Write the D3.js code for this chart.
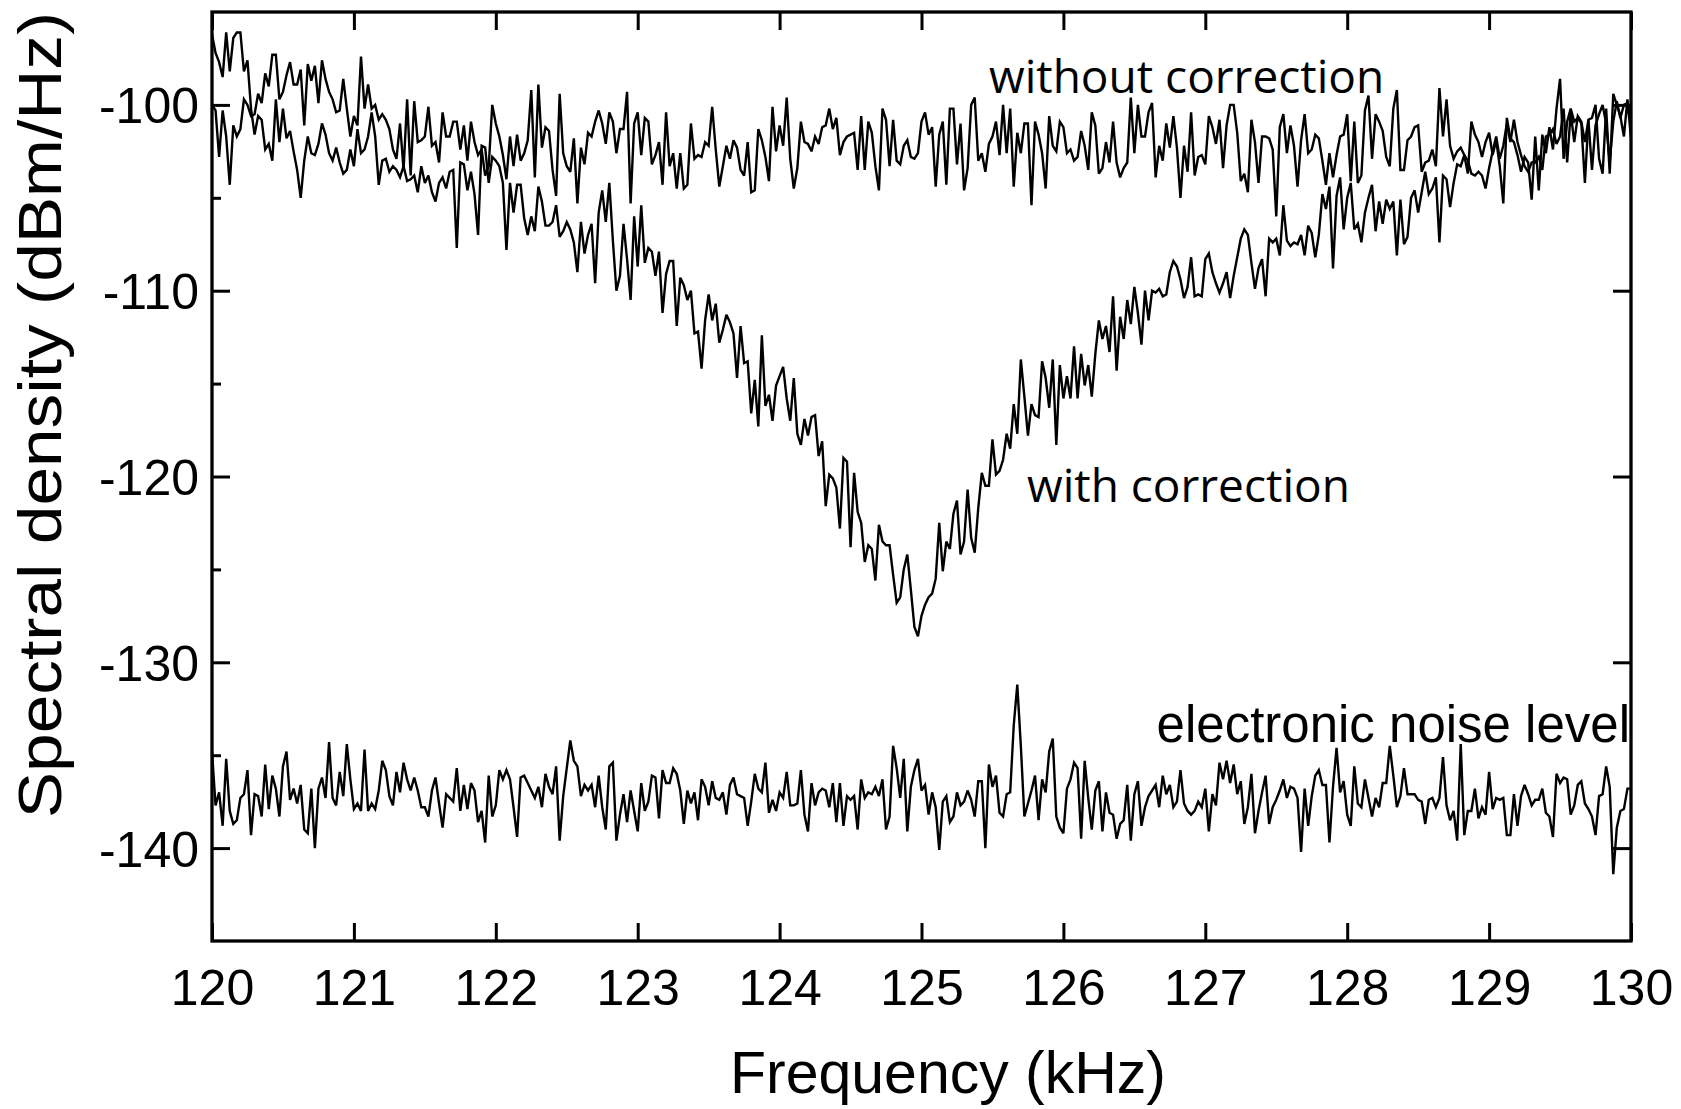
<!DOCTYPE html>
<html><head><meta charset="utf-8">
<script src="https://d3js.org/d3.v7.min.js"></script>
<style>html,body{margin:0;padding:0;background:#fff;} svg{display:block;}</style>
</head><body>
<svg id="chart" width="1681" height="1109"></svg>
<script>
// ---- data ----
const xDomain = [120, 130];
const yDomain = [-145, -95];
const xTickValues = [120, 121, 122, 123, 124, 125, 126, 127, 128, 129, 130];
const yTickValues = [-140, -130, -120, -110, -100];
const yMinorTickValues = [-135, -125, -115, -105];
const xLabel = "Frequency (kHz)";
const yLabel = "Spectral density (dBm/Hz)";
const seriesNames = ["without correction", "with correction", "electronic noise level"];

// spectra sampled on a uniform grid from 120 to 130 kHz (401 points each)
const withoutCorrection = [
-100.0,-100.3,-102.8,-100.3,-101.7,-104.3,-101.1,-101.7,-101.3,-99.7,-100.0,-100.6,
-100.5,-99.4,-99.9,-98.3,-99.0,-97.3,-97.3,-99.7,-99.3,-98.4,-97.7,-98.9,-98.9,-98.1,-101.1,-97.8,-98.7,-97.9,-99.9,-97.6,-98.6,-99.3,-99.7,-100.4,-100.3,-98.6,-100.2,-101.7,-100.6,-101.1,-97.4,-100.2,-98.9,-100.2,-100.0,
-100.8,-100.5,-100.8,-101.3,-102.4,-102.9,-101.0,-103.5,-99.7,-103.8,-99.8,-102.0,-101.9,-101.7,-100.1,-102.2,-102.0,-103.1,-100.4,-101.7,-101.7,-100.9,-100.9,-102.4,-101.1,-103.0,-100.9,-102.0,-102.7,-102.4,-103.8,-103.3,
-100.0,-101.0,-101.7,-102.7,-104.0,-101.7,-103.3,-101.6,-103.0,-102.6,-101.9,-99.2,-103.9,-98.9,-102.3,-101.2,-101.4,-103.5,-104.9,-99.4,-102.6,-103.3,-103.6,-101.8,-105.3,-102.3,-103.2,-101.5,-101.7,-100.9,-100.3,-101.0,-102.1,-100.4,-100.9,-102.6,-101.3,-101.3,-99.3,-105.3,-101.0,-100.4,-102.7,-100.7,-100.9,-103.2,-102.7,-102.0,-104.3,-100.4,-103.3,-102.6,-104.5,
-102.6,-104.5,-104.3,-101.0,-102.9,-102.7,-102.8,-102.0,-102.2,-100.1,
-102.4,-104.4,-103.3,-102.2,-102.9,-101.9,-102.3,-103.5,-103.8,-102.0,
-104.7,-104.6,-101.3,-101.9,-102.8,-104.1,-100.1,-102.5,-101.1,-102.2,
-99.6,-102.9,-104.5,-103.4,-100.9,-102.0,-102.1,-102.5,-101.7,-102.1,
-101.2,-101.1,-100.2,-101.3,-100.7,-102.7,-102.0,-101.7,-101.6,-101.5,
-103.5,-100.6,-103.5,-100.9,-101.5,-103.3,-104.6,-100.2,-100.8,-103.3,
-100.8,-103.0,-103.2,-102.2,-101.9,-102.8,-102.9,-102.6,-100.9,-100.4,
-101.6,-101.2,-104.4,-101.6,-100.9,-104.3,-100.2,-100.2,-103.2,-101.0,
-104.6,-103.4,-100.0,-99.6,-103.0,-102.6,-103.6,-102.1,-101.7,-100.9,
-102.7,-100.0,-102.6,-100.2,-104.4,-101.5,-102.6,-101.0,-101.0,-105.4,
-100.9,-101.6,-102.6,-104.5,-100.6,-102.2,-102.5,-100.9,-101.2,-102.6,
-102.4,-103.0,-102.8,-101.4,-102.2,-103.5,-100.4,-101.1,-103.7,-103.4,
-102.0,-103.1,-100.9,-103.1,-103.9,-103.4,-103.1,-99.6,-102.6,-100.0,
-101.7,-101.7,-100.4,-99.9,-103.9,-102.2,
-103.0,-101.0,-102.3,-100.6,-102.3,-105.0,-102.2,-103.6,-100.4,-103.8,
-102.8,-102.7,-103.2,-100.6,-101.2,-102.1,-100.8,-103.4,-101.1,-100.0,
-100.0,-101.5,-104.1,-103.7,-104.7,-100.8,-102.0,-104.2,-101.7,-101.7,
-101.8,-102.4,-106.0,-101.2,-100.5,-102.6,-101.1,-102.2,-104.4,-101.9,
-100.5,-102.6,-102.4,-101.6,-101.8,-103.0,-104.3,-102.6,-103.9,-102.7,
-101.7,-101.6,-100.5,-104.1,-100.9,-104.2,-103.8,-100.3,-99.5,-102.9,
-100.5,-100.9,-101.4,-102.8,-103.3,-100.2,-99.2,-103.5,-103.5,-101.9,
-101.7,-101.2,-101.1,-103.6,-103.1,-103.0,-102.4,-103.3,-99.1,-101.7,
-99.7,-102.2,-102.9,-102.5,-102.3,-102.7,-103.7,-100.9,-101.6,-102.0,
-102.8,-102.0,-101.5,-102.7,-101.9,-103.3,-105.3,-100.7,-101.8,-102.0,
-102.7,-103.6,-102.8,-103.1,-105.1,-101.7,-104.6,-101.6,-102.6,-101.2,
-102.4,-100.2,-98.6,-102.9,-100.9,-100.2,-100.9,-100.7,-101.0,-104.2,
-100.8,-100.7,-100.0,-102.9,-103.7,-100.2,-103.7,-99.4,-100.0,-100.6,
-101.7,-99.7,-101.8
];

const withCorrection = [
-96.2,-97.2,-97.7,-98.5,-96.1,-98.2,-96.4,-96.1,-96.1,-98.2,-97.6,-100.2,
-101.6,-100.6,-100.8,-102.4,-102.1,-103.0,-99.7,-102.0,-100.2,-101.8,-101.4,-102.5,-103.5,-105.0,-103.0,-101.7,-102.6,-102.7,-102.1,-101.0,-101.6,-102.6,-103.0,-102.3,-103.1,-103.7,-103.5,-102.4,-103.3,-101.3,-102.6,-102.4,-101.7,-100.4,-101.7,
-104.3,-103.0,-102.9,-103.6,-103.3,-103.5,-103.9,-103.3,-104.1,-104.0,
-103.8,-104.7,-103.3,-104.2,-103.8,-104.7,-105.2,-104.2,-103.9,-104.5,
-103.6,-103.5,-107.7,-103.1,-103.2,-104.6,-103.6,-104.8,-107.0,-102.2,
-102.3,-104.2,-102.8,-103.0,-103.3,-104.2,-107.8,-104.2,-105.8,-104.3,
-104.3,-106.1,-107.0,-106.0,-106.8,-104.4,-105.2,-106.5,-106.5,-106.3,
-105.4,-107.1,-106.8,-106.3,-106.7,-107.4,-109.0,-106.3,-108.0,-107.0,
-106.4,-109.6,-105.8,-104.6,-106.3,-104.2,-107.3,-110.0,-109.2,-106.4,
-108.3,-110.5,-106.0,-108.7,
-105.4,-108.5,-107.7,-107.9,-109.2,-107.9,-111.2,-109.1,-108.4,-108.4,
-111.9,-109.3,-109.7,-110.5,-110.0,-112.3,-112.2,-114.2,-111.6,-110.2,
-111.6,-110.7,-112.8,-112.1,-111.3,-111.7,-112.3,-114.7,-111.9,-113.9,
-113.8,-116.6,-114.8,-117.3,-112.4,-116.2,-115.6,-117.0,-115.1,-114.6,
-114.1,-115.8,-117.0,-114.7,-117.7,-118.3,-116.9,-117.8,-116.8,-116.7,
-118.9,-118.1,-121.6,-119.9,-120.1,-120.6,-122.8,-119.0,-119.2,-123.8,
-119.8,-121.9,-122.5,-124.6,-123.7,-123.9,-125.6,-122.6,-123.5,-123.7,
-123.7,-125.3,-126.8,-126.5,-125.0,-124.2,-126.1,-128.1,-128.6,-127.5,
-126.9,-126.5,-126.3,-125.5,-122.5,-125.1,-123.5,-123.9,-122.0,-121.3,
-124.2,-123.5,-120.7,-123.3,-124.1,-121.7,-119.8,-120.5,-120.5,-118.0,
-119.9,-119.7,-119.1,-117.7,-118.5,-116.1,-117.7,-113.7,-115.7,-117.8,
-116.1,-116.7,-116.8,-113.8,-114.7,-116.3,-113.7,-118.3,-114.0,-115.8,
-114.6,-115.8,-113.0,-115.8,-113.4,-115.1,-114.0,-115.7,-113.4,-111.6,
-112.6,-111.9,-113.3,-110.3,-114.3,-111.4,
-112.6,-110.5,-111.8,-109.8,-111.2,-112.9,-110.0,-111.6,-110.0,
-110.1,-109.9,-110.3,-110.2,-109.0,-108.4,-108.7,-109.4,-110.4,-109.8,
-108.2,-110.3,-110.2,-110.3,-108.3,-108.0,-109.0,-109.6,-110.1,-109.6,
-109.0,-110.4,-109.2,-108.2,-107.2,-106.7,-107.0,-108.5,-109.9,-108.8,
-108.3,-110.3,-107.2,-107.4,-107.2,-108.1,-105.4,-107.3,-107.6,-107.4,
-107.5,-107.0,-108.1,-106.5,-106.9,-108.2,-107.0,-104.8,-105.6,-104.4,
-108.8,-104.9,-103.9,-106.7,-105.0,-104.2,-106.7,-106.4,-107.4,-105.8,
-105.0,-104.3,-106.8,-105.2,-106.4,-105.1,-105.6,-105.2,-108.1,-105.1,
-107.5,-107.1,-105.0,-104.6,-105.8,-104.7,-103.6,-104.8,-104.5,-103.9,
-107.4,-103.8,-104.0,-105.5,-104.2,-103.2,-103.3,-102.7,-103.0,-103.7,
-103.8,-103.6,-103.8,-104.5,-103.4,-102.5,-101.7,-102.9,-102.2,-101.0,
-102.0,-100.8,-102.0,-102.7,-103.3,-103.6,-103.1,-103.1,-102.8,-103.5,
-101.7,-101.6,-101.3,-102.1,-101.7,-100.2,-103.1,-100.4,-102.0,-100.6,
-100.9,-102.0,-100.8,-103.5,-101.1,-100.5,-100.0,-101.0,-103.1,-100.9,
-99.8,-100.7,-100.0,-99.9,-100.6
];

const electronicNoise = [
-134.8,-137.7,-137.0,-138.8,-135.2,-138.0,-138.7,-138.5,-137.3,-137.1,
-135.8,-139.3,-137.1,-137.2,-138.3,-135.5,-137.9,-136.1,-136.8,-138.3,
-135.6,-134.8,-137.4,-136.8,-137.6,-136.6,-139.0,-139.2,-136.8,-140.0,
-136.8,-136.2,-137.3,-134.3,-137.3,-137.7,-135.9,-137.2,-134.4,-136.3,
-137.9,-137.6,-138.0,-134.7,-138.0,-137.6,-137.9,-136.9,-135.3,-135.8,
-137.2,-137.7,-135.9,-137.0,-135.4,-136.3,-136.9,-136.2,-136.9,-137.8,
-137.8,-138.3,-136.9,-136.2,-137.6,-138.9,-137.1,-137.3,-137.5,-135.7,
-138.0,-136.6,-137.9,-136.5,-136.9,-138.6,-138.0,-139.7,-136.1,-138.3,
-137.7,-135.8,-136.3,-135.8,-136.3,-137.8,-139.4,-136.2,-136.1,-136.5,
-136.9,-137.3,-136.7,-137.8,-136.0,-136.7,-137.1,-135.6,-139.6,-137.2,
-135.7,-134.2,-135.3,-135.6,-137.2,-136.6,-136.9,-136.6,-137.8,-136.1,
-137.8,-139.0,-135.6,-135.4,-139.6,-138.2,-137.1,-138.6,-136.9,-138.0,
-139.1,-136.5,-138.0,-137.5,-136.1,-136.2,-138.4,-135.8,-136.5,-136.5,
-135.7,-136.0,-136.9,-138.7,-136.9,-137.6,-137.0,-138.5,-136.3,-136.7,
-137.7,-136.4,-137.3,-137.4,-137.0,-138.2,-136.6,-136.2,-137.1,-137.2,
-137.3,-138.8,-137.5,-136.0,-136.8,-137.0,-135.4,-138.1,-137.4,-138.0,
-137.0,-137.3,-135.9,-137.7,-137.7,-137.6,-135.8,-138.2,-139.1,-136.5,
-137.7,-137.0,-136.8,-136.9,-137.8,-136.5,-138.6,-136.5,-138.8,-137.2,
-137.4,-137.2,-139.0,-136.3,-137.3,-137.0,-137.1,-136.7,-137.2,-136.3,
-139.0,-138.3,-134.5,-135.7,-137.3,-135.2,-139.1,-136.7,-135.8,
-135.2,-136.9,-136.6,-138.2,-137.0,-137.8,-140.1,-137.5,-137.2,-138.6,
-138.3,-137.0,-137.7,-137.5,-136.9,-137.4,-138.3,-136.4,-136.4,-140.0,
-135.5,-136.7,-136.1,-138.1,-138.3,-137.1,-137.0,-133.4,-131.2,-134.5,
-138.3,-137.6,-136.9,-136.1,-138.5,-136.3,-137.0,-134.8,-134.1,-138.3,
-138.9,-139.2,-136.8,-136.3,-135.4,-135.7,-139.5,-135.3,-137.3,-139.0,
-136.9,-136.4,-139.1,-137.0,-138.1,-138.2,-139.5,-138.7,-138.5,-136.6,
-139.6,-137.1,-136.4,-138.8,-137.8,-137.2,-136.9,-136.6,-137.8,-136.1,
-137.1,-136.6,-137.8,-137.5,-135.8,-137.6,-138.0,-138.2,-138.0,-137.5,
-137.8,-136.8,-139.1,-137.1,-137.7,-135.4,-136.3,-135.3,-136.5,-135.5,
-137.1,-136.4,-138.7,-137.8,-136.0,-139.2,-138.0,-137.0,-136.1,-138.7,
-137.8,-137.4,-136.9,-136.3,-137.3,-136.7,-136.8,-137.3,-140.2,-136.8,
-138.8,-137.2,-136.1,-135.8,-136.6,-136.6,-139.7,-136.7,-134.6,-137.0,
-136.4,-138.2,-138.8,-135.6,-137.6,-137.8,-136.3,-137.3,-138.3,-137.3,
-137.8,-136.5,-136.5,-134.5,-136.1,-137.8,-137.2,-135.7,-137.1,-137.1,
-137.1,-137.4,-137.5,-138.7,-137.4,-137.3,-137.8,-137.3,-135.1,-137.7,
-138.5,-138.0,-139.6,-134.4,-139.3,-138.0,-138.0,-136.8,-138.4,-137.8,
-138.2,-135.9,-137.9,-137.3,-137.4,-137.3,-139.3,-139.3,-137.1,-138.8,
-137.2,-136.6,-137.1,-137.7,-137.4,-137.4,-136.8,-138.1,-138.3,-139.4,
-136.0,-136.5,-136.2,-136.3,-138.2,-137.7,-136.6,-136.4,-137.6,-137.9,
-138.3,-139.3,-137.2,-137.1,-135.6,-136.7,-141.4,-138.9,-138.0,-137.9,
-136.8,-136.8
];

// ---- layout ----
const chartW = 1681, chartH = 1109;
const plotLeft = 212, plotRight = 1631, plotTop = 12, plotBottom = 941;
const svg = d3.select("#chart");
svg.append("rect").attr("width", chartW).attr("height", chartH).attr("fill", "#fff");

const x = d3.scaleLinear().domain(xDomain).range([plotLeft, plotRight]);
const y = d3.scaleLinear().domain(yDomain).range([plotBottom, plotTop]);

const FONT = "'Liberation Sans', Arial, Helvetica, sans-serif";

function freqAt(i, n) { return xDomain[0] + (xDomain[1] - xDomain[0]) * i / (n - 1); }
const line = d3.line()
  .x((d, i, arr) => x(freqAt(i, arr.length)))
  .y(d => y(d));

const lineG = svg.append("g");
[withoutCorrection, withCorrection, electronicNoise].forEach(s => {
  lineG.append("path").datum(s).attr("d", line)
    .attr("fill", "none").attr("stroke", "#000").attr("stroke-width", 2.4)
    .attr("stroke-linejoin", "miter").attr("stroke-miterlimit", 3);
});

// ---- axes ----
const tickW = 3;
svg.append("g").attr("transform", `translate(0,${plotBottom})`)
  .call(d3.axisBottom(x).tickValues(xTickValues).tickSizeInner(-18).tickSizeOuter(0).tickFormat(""))
  .call(g => g.select(".domain").remove())
  .call(g => g.selectAll("line").attr("stroke", "#000").attr("stroke-width", tickW));
svg.append("g").attr("transform", `translate(0,${plotTop})`)
  .call(d3.axisTop(x).tickValues(xTickValues).tickSizeInner(-18).tickSizeOuter(0).tickFormat(""))
  .call(g => g.select(".domain").remove())
  .call(g => g.selectAll("line").attr("stroke", "#000").attr("stroke-width", tickW));
svg.append("g").attr("transform", `translate(${plotLeft},0)`)
  .call(d3.axisLeft(y).tickValues(yTickValues).tickSizeInner(-18).tickSizeOuter(0).tickFormat(""))
  .call(g => g.select(".domain").remove())
  .call(g => g.selectAll("line").attr("stroke", "#000").attr("stroke-width", tickW));
svg.append("g").attr("transform", `translate(${plotLeft},0)`)
  .call(d3.axisLeft(y).tickValues(yMinorTickValues).tickSizeInner(-9).tickSizeOuter(0).tickFormat(""))
  .call(g => g.select(".domain").remove())
  .call(g => g.selectAll("line").attr("stroke", "#000").attr("stroke-width", tickW));
svg.append("g").attr("transform", `translate(${plotRight},0)`)
  .call(d3.axisRight(y).tickValues(yTickValues).tickSizeInner(-18).tickSizeOuter(0).tickFormat(""))
  .call(g => g.select(".domain").remove())
  .call(g => g.selectAll("line").attr("stroke", "#000").attr("stroke-width", tickW));

// tick labels
svg.append("g").attr("transform", `translate(0,${plotBottom})`)
  .call(d3.axisBottom(x).tickValues(xTickValues).tickSize(0).tickFormat(d3.format("d")))
  .call(g => g.select(".domain").remove())
  .call(g => g.selectAll("text").attr("y", 64).attr("dy", null)
    .attr("font-family", FONT).attr("font-size", 50).attr("fill", "#000"));
svg.append("g").attr("transform", `translate(${plotLeft},0)`)
  .call(d3.axisLeft(y).tickValues(yTickValues).tickSize(0).tickFormat(d => "-" + Math.abs(d)))
  .call(g => g.select(".domain").remove())
  .call(g => g.selectAll("text").attr("x", -13).attr("dy", "0.36em")
    .attr("font-family", FONT).attr("font-size", 50).attr("fill", "#000"));

// frame
svg.append("rect").attr("x", plotLeft).attr("y", plotTop)
  .attr("width", plotRight - plotLeft).attr("height", plotBottom - plotTop)
  .attr("fill", "none").attr("stroke", "#000").attr("stroke-width", 3.3);

// axis titles
svg.append("text").attr("x", 948).attr("y", 1093).attr("text-anchor", "middle")
  .attr("font-family", FONT).attr("font-size", 59).text(xLabel);
svg.append("text").attr("transform", `translate(61,415) rotate(-90) scale(1.12,1)`)
  .attr("text-anchor", "middle").attr("font-family", FONT).attr("font-size", 62).text(yLabel);

// annotations
const ANN = "'Open Sans', 'Noto Sans', sans-serif";
svg.append("text").attr("x", 989).attr("y", 93).attr("font-family", ANN).attr("font-size", 46).text(seriesNames[0]);
svg.append("text").attr("x", 1027).attr("y", 502).attr("font-family", ANN).attr("font-size", 46).text(seriesNames[1]);
svg.append("text").attr("x", 1630).attr("y", 742).attr("text-anchor", "end").attr("font-family", FONT).attr("font-size", 51).text(seriesNames[2]);
</script>
</body></html>
